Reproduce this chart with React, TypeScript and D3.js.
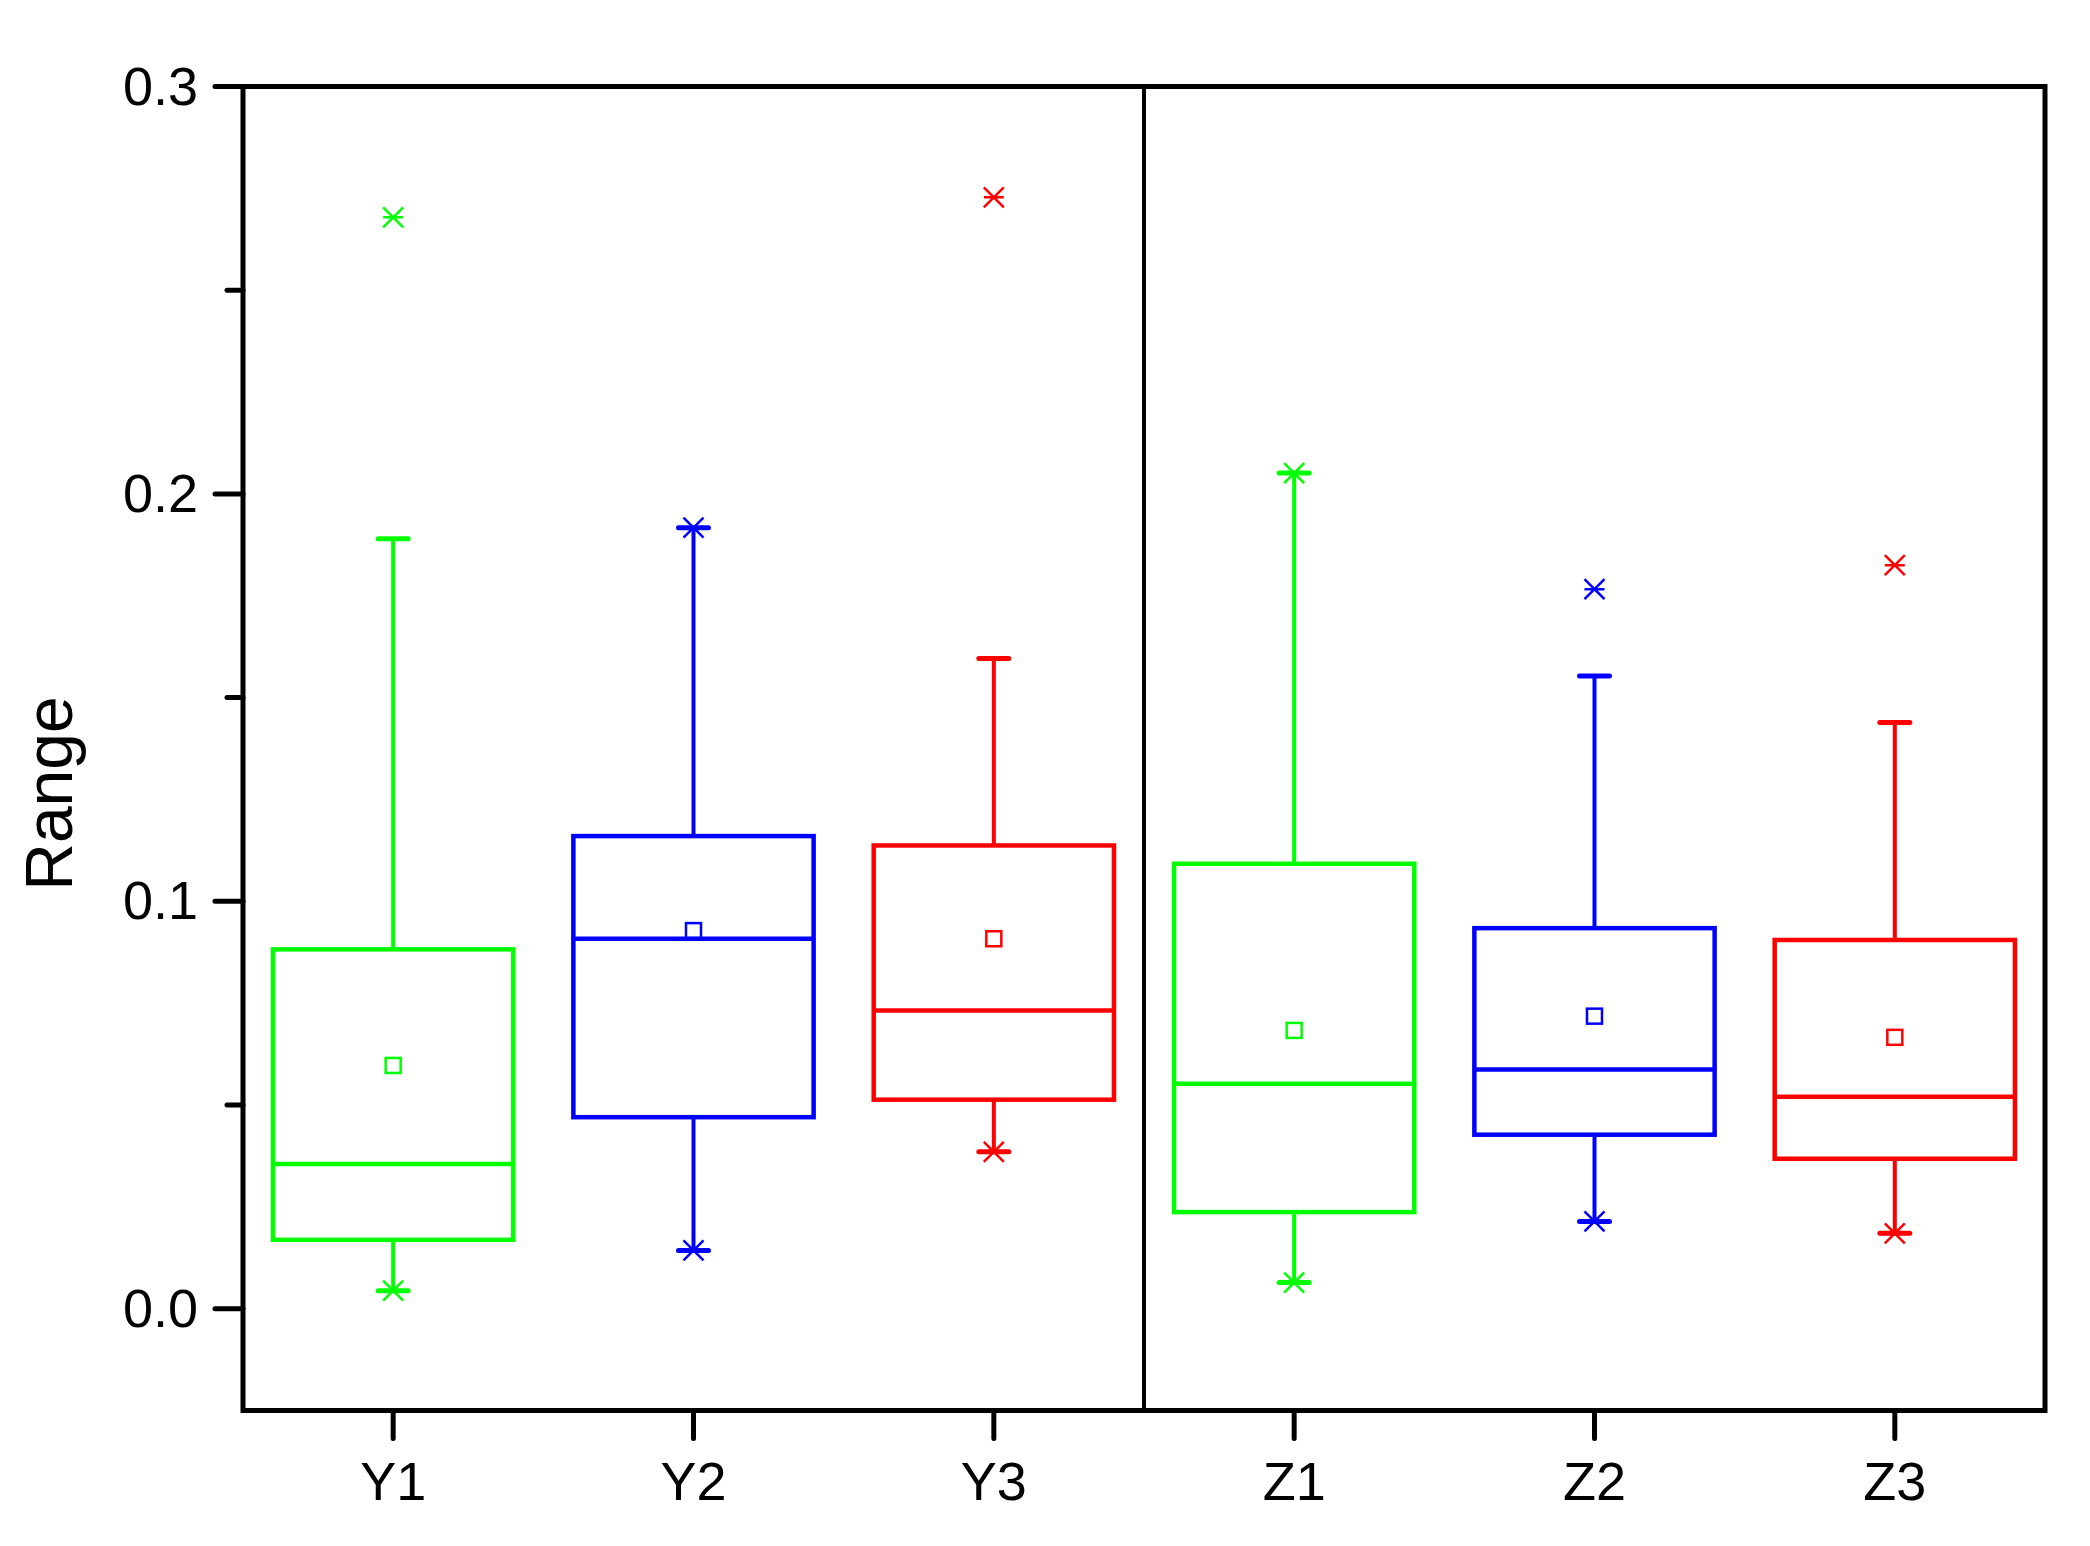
import React, { useRef, useEffect } from "react";
import * as d3 from "d3";

const categories = ["Y1", "Y2", "Y3", "Z1", "Z2", "Z3"];
const seriesColors = ["#00ff00", "#0000ff", "#ff0000", "#00ff00", "#0000ff", "#ff0000"];

// box statistics
const whiskerLow = [0.0044, 0.0143, 0.0385, 0.0064, 0.0214, 0.0185];
const q1 = [0.0169, 0.047, 0.0513, 0.0237, 0.0427, 0.0368];
const median = [0.0355, 0.0908, 0.0732, 0.0552, 0.0587, 0.052];
const mean = [0.0597, 0.0928, 0.0908, 0.0683, 0.0718, 0.0666];
const q3 = [0.0882, 0.116, 0.1137, 0.1092, 0.0934, 0.0905];
const whiskerHigh = [0.189, 0.1917, 0.1596, 0.2051, 0.1553, 0.1439];
const minVal = [0.0044, 0.0143, 0.0385, 0.0064, 0.0214, 0.0185];
const maxVal = [0.2679, 0.1917, 0.2728, 0.2051, 0.1766, 0.1825];

const majorTicks = [0, 0.1, 0.2, 0.3];
const minorTicks = [0.05, 0.15, 0.25];

export default function App() {
  const svgRef = useRef<SVGSVGElement>(null);

  useEffect(() => {
    const width = 2090;
    const height = 1546;
    const left = 243;
    const right = 2045;
    const top = 86.5;
    const bottom = 1410.5;

    const svg = d3.select(svgRef.current);
    svg.selectAll("*").remove();

    const x = d3.scaleBand().domain(categories).range([left, right]).padding(0);
    const y = d3.scaleLinear().domain([-0.025, 0.3]).range([bottom, top]);
    const boxW = x.bandwidth() * 0.8;
    const font = "'Liberation Sans', Arial, sans-serif";

    const data = categories.map((c, i) => ({
      c,
      color: seriesColors[i],
      lo: whiskerLow[i],
      q1: q1[i],
      med: median[i],
      mean: mean[i],
      q3: q3[i],
      hi: whiskerHigh[i],
      min: minVal[i],
      max: maxVal[i],
    }));

    const g = svg.append("g");

    // divider between Y and Z groups
    g.append("line")
      .attr("x1", x("Z1")!)
      .attr("x2", x("Z1")!)
      .attr("y1", top)
      .attr("y2", bottom)
      .attr("stroke", "#000")
      .attr("stroke-width", 4);

    const groups = g
      .selectAll("g.box")
      .data(data)
      .join("g")
      .attr("class", "box")
      .attr("transform", (d) => `translate(${x(d.c)! + x.bandwidth() / 2},0)`);

    groups.each(function (d) {
      const b = d3.select(this);
      // whiskers
      b.append("line")
        .attr("x1", 0).attr("x2", 0)
        .attr("y1", y(d.q3)).attr("y2", y(d.hi))
        .attr("stroke", d.color).attr("stroke-width", 4);
      b.append("line")
        .attr("x1", 0).attr("x2", 0)
        .attr("y1", y(d.q1)).attr("y2", y(d.lo))
        .attr("stroke", d.color).attr("stroke-width", 4);
      // caps
      [d.hi, d.lo].forEach((v) => {
        b.append("line")
          .attr("x1", -15).attr("x2", 15)
          .attr("y1", y(v)).attr("y2", y(v))
          .attr("stroke", d.color).attr("stroke-width", 5)
          .attr("stroke-linecap", "round");
      });
      // box
      b.append("rect")
        .attr("x", -boxW / 2)
        .attr("y", y(d.q3))
        .attr("width", boxW)
        .attr("height", y(d.q1) - y(d.q3))
        .attr("fill", "none")
        .attr("stroke", d.color)
        .attr("stroke-width", 4.5);
      b.append("line")
        .attr("x1", -boxW / 2).attr("x2", boxW / 2)
        .attr("y1", y(d.med)).attr("y2", y(d.med))
        .attr("stroke", d.color).attr("stroke-width", 4.5);
      // mean
      b.append("rect")
        .attr("x", -7.5).attr("y", y(d.mean) - 7.5)
        .attr("width", 15).attr("height", 15)
        .attr("fill", "none")
        .attr("stroke", d.color).attr("stroke-width", 2.5);
      // min / max markers: x plus dash
      [d.min, d.max].forEach((v) => {
        const yy = y(v);
        b.append("path")
          .attr("d", `M-10,${yy - 10}L10,${yy + 10}M-10,${yy + 10}L10,${yy - 10}M-10,${yy}L10,${yy}`)
          .attr("stroke", d.color)
          .attr("stroke-width", 2.5)
          .attr("fill", "none");
      });
    });

    // frame
    const axisColor = "#000";
    g.append("rect")
      .attr("x", left)
      .attr("y", top)
      .attr("width", right - left)
      .attr("height", bottom - top)
      .attr("fill", "none")
      .attr("stroke", axisColor)
      .attr("stroke-width", 5);

    // y ticks
    g.selectAll("line.ymaj")
      .data(majorTicks)
      .join("line")
      .attr("class", "ymaj")
      .attr("x1", left - 28).attr("x2", left)
      .attr("y1", (d) => y(d)).attr("y2", (d) => y(d))
      .attr("stroke", axisColor).attr("stroke-width", 5)
      .attr("stroke-linecap", "round");
    g.selectAll("line.ymin")
      .data(minorTicks)
      .join("line")
      .attr("class", "ymin")
      .attr("x1", left - 16).attr("x2", left)
      .attr("y1", (d) => y(d)).attr("y2", (d) => y(d))
      .attr("stroke", axisColor).attr("stroke-width", 5)
      .attr("stroke-linecap", "round");
    g.selectAll("text.ylab")
      .data(majorTicks)
      .join("text")
      .attr("class", "ylab")
      .attr("x", left - 45)
      .attr("y", (d) => y(d) + 18)
      .attr("text-anchor", "end")
      .attr("font-family", font)
      .attr("font-size", 54)
      .text((d) => d3.format(".1f")(d));

    // x ticks
    g.selectAll("line.xt")
      .data(categories)
      .join("line")
      .attr("class", "xt")
      .attr("x1", (d) => x(d)! + x.bandwidth() / 2)
      .attr("x2", (d) => x(d)! + x.bandwidth() / 2)
      .attr("y1", bottom).attr("y2", bottom + 28)
      .attr("stroke", axisColor).attr("stroke-width", 5)
      .attr("stroke-linecap", "round");
    g.selectAll("text.xlab")
      .data(categories)
      .join("text")
      .attr("class", "xlab")
      .attr("x", (d) => x(d)! + x.bandwidth() / 2)
      .attr("y", 1500)
      .attr("text-anchor", "middle")
      .attr("font-family", font)
      .attr("font-size", 54)
      .text((d) => d);

    // axis title
    g.append("text")
      .attr("transform", `translate(72,${(top + bottom) / 2 + 45}) rotate(-90)`)
      .attr("text-anchor", "middle")
      .attr("font-family", font)
      .attr("font-size", 66)
      .text("Range");

    svg.attr("width", width).attr("height", height);
  }, []);

  return (
    <svg
      ref={svgRef}
      width={2090}
      height={1546}
      style={{ position: "absolute", left: 0, top: 0, background: "#fff" }}
    />
  );
}
